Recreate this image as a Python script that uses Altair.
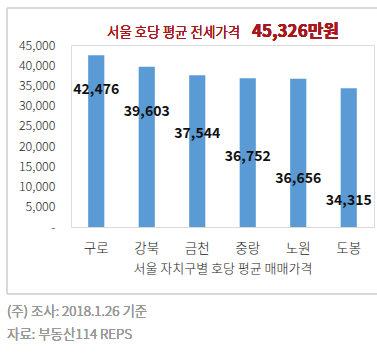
import altair as alt
import pandas as pd

districts = ["구로", "강북", "금천", "중랑", "노원", "도봉"]
prices = [42476, 39603, 37544, 36752, 36656, 34315]
y_ticks = [0, 5000, 10000, 15000, 20000, 25000, 30000, 35000, 40000, 45000]

title_main = "서울 호당 평균 전세가격"
title_value = "45,326만원"
x_title = "서울 자치구별 호당 평균 매매가격"
note1 = "(주) 조사: 2018.1.26 기준"
note2 = "자료: 부동산114 REPS"

FONT = "Noto Sans CJK KR"
df = pd.DataFrame({"district": districts, "price": prices})

x_scale = alt.Scale(paddingInner=0.68, paddingOuter=0.34)
x_axis = alt.Axis(title=x_title, labelAngle=0, labelFontSize=13.5, labelColor="#222",
                  labelPadding=14, ticks=False, tickSize=0, domainColor="#d9d9d9",
                  labelFontWeight=300, titleFontWeight=300,
                  titleFontSize=13, titleColor="#222",
                  titlePadding=8, labelFont=FONT, titleFont=FONT)
y_scale = alt.Scale(domain=[0, 45000], nice=False)
y_axis = alt.Axis(title=None, values=y_ticks, grid=False, domain=False,
                  ticks=False, tickSize=0, labelPadding=16, labelFontSize=12.5,
                  labelColor="#222", labelFont=FONT, labelFontWeight=300,
                  labelOverlap=False,
                  labelExpr="datum.value == 0 ? '-' : format(datum.value, ',')")

bars = alt.Chart(df).mark_bar(color="#5B9BD5").encode(
    x=alt.X("district:N", sort=districts, scale=x_scale, axis=x_axis),
    y=alt.Y("price:Q", scale=y_scale, axis=y_axis),
)

labels = alt.Chart(df).transform_window(
    idx="row_number()"
).transform_calculate(
    labelpos="33900 - 5500 * (datum.idx - 1)"
).mark_text(fontWeight="bold", fontSize=14, color="#111", font=FONT).encode(
    x=alt.X("district:N", sort=districts, scale=x_scale, axis=x_axis),
    y=alt.Y("labelpos:Q", scale=y_scale, axis=y_axis),
    text=alt.Text("price:Q", format=","),
)

box = alt.Chart(df).mark_rect(fill=None, stroke="#d9d9d9", strokeWidth=1).encode(
    x=alt.value(-64), x2=alt.value(320), y=alt.value(-37), y2=alt.value(249)
)

t1 = alt.Chart(df).mark_text(align="left", baseline="middle", fontSize=13.5, fontWeight=300,
                             color="#A8171B", font=FONT).encode(
    x=alt.value(36), y=alt.value(-12), text=alt.datum(title_main))
t2 = alt.Chart(df).mark_text(align="left", baseline="middle", fontSize=17, fontWeight="bold",
                             color="#A8171B", font=FONT).encode(
    x=alt.value(181), y=alt.value(-13), text=alt.datum(title_value))
n1 = alt.Chart(df).mark_text(align="left", baseline="middle", fontSize=13.5, fontWeight=300,
                             color="#999", font=FONT).encode(
    x=alt.value(-64), y=alt.value(267), text=alt.datum(note1))
n2 = alt.Chart(df).mark_text(align="left", baseline="middle", fontSize=13.5, fontWeight=300,
                             color="#999", font=FONT).encode(
    x=alt.value(-64), y=alt.value(290), text=alt.datum(note2))

chart = alt.layer(box, bars, labels, t1, t2, n1, n2).properties(
    width=303, height=182,
    autosize=alt.AutoSizeParams(type="none"),
    padding={"left": 71, "top": 45, "right": 3, "bottom": 126},
).configure_view(stroke=None).configure(background="white")

chart.save("out.html", embed_options={"renderer": "svg", "actions": False})
